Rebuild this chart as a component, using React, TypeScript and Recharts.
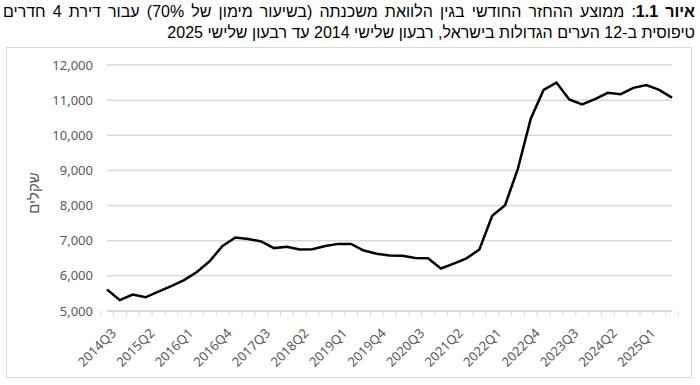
import { ComposedChart, Line, XAxis, YAxis, CartesianGrid, Label } from "recharts";

const quarters = [
  "2014Q3", "2014Q4",
  "2015Q1", "2015Q2", "2015Q3", "2015Q4",
  "2016Q1", "2016Q2", "2016Q3", "2016Q4",
  "2017Q1", "2017Q2", "2017Q3", "2017Q4",
  "2018Q1", "2018Q2", "2018Q3", "2018Q4",
  "2019Q1", "2019Q2", "2019Q3", "2019Q4",
  "2020Q1", "2020Q2", "2020Q3", "2020Q4",
  "2021Q1", "2021Q2", "2021Q3", "2021Q4",
  "2022Q1", "2022Q2", "2022Q3", "2022Q4",
  "2023Q1", "2023Q2", "2023Q3", "2023Q4",
  "2024Q1", "2024Q2", "2024Q3", "2024Q4",
  "2025Q1", "2025Q2", "2025Q3",
];

// average monthly mortgage payment, NIS
const payments = [
  5610, 5310,
  5470, 5390, 5550, 5710,
  5880, 6110, 6420, 6850,
  7090, 7050, 6980, 6790,
  6830, 6750, 6760, 6850,
  6910, 6910, 6720, 6630,
  6580, 6570, 6510, 6500,
  6210, 6350, 6500, 6750,
  7710, 8010, 9050, 10470,
  11290, 11500, 11020, 10880,
  11030, 11210, 11170, 11350,
  11430, 11290, 11070,
];

const yTicks = [5000, 6000, 7000, 8000, 9000, 10000, 11000, 12000];

const titleBold = "איור 1.1";
const titleLine1 = ": ממוצע ההחזר החודשי בגין הלוואת משכנתה (בשיעור מימון של 70%) עבור דירת 4 חדרים";
const titleLine2 = "טיפוסית ב-12 הערים הגדולות בישראל, רבעון שלישי 2014 עד רבעון שלישי 2025";
const yTitle = "שקלים";

const data = quarters.map((q, i) => ({ quarter: q, payment: payments[i] }));

const gray = "#d9d9d9";
const labelColor = "#595959";
const font = "'Noto Sans', 'Open Sans', sans-serif";

function QuarterTick(props: any) {
  const { x, y, payload, index, width, visibleTicksCount } = props;
  const step = width && visibleTicksCount ? width / visibleTicksCount : 12.56;
  const left = x - step / 2;
  const right = x + step / 2;
  const tx = x + 10;
  const ty = y + 23;
  return (
    <g>
      <line x1={left} x2={left} y1={y} y2={y + 5} stroke={gray} />
      {index === visibleTicksCount - 1 && <line x1={right} x2={right} y1={y} y2={y + 5} stroke={gray} />}
      {index % 3 === 0 && (
        <text
          x={tx}
          y={ty}
          transform={`rotate(-45, ${tx}, ${ty})`}
          textAnchor="end"
          fontSize={13}
          fontFamily={font}
          fill={labelColor}
        >
          {payload.value}
        </text>
      )}
    </g>
  );
}

export default function App() {
  return (
    <div style={{ position: "absolute", left: 0, top: 0, width: 700, height: 385, background: "#fff", overflow: "hidden" }}>
      <div
        dir="rtl"
        style={{
          position: "absolute",
          top: 1,
          left: 3,
          width: 692,
          fontFamily: "'Liberation Sans', Arial, sans-serif",
          fontSize: 16,
          lineHeight: "21px",
          color: "#000",
          whiteSpace: "nowrap",
        }}
      >
        <div style={{ textAlign: "justify", textAlignLast: "justify" }}>
          <b>{titleBold}</b>
          {titleLine1}
        </div>
        <div style={{ textAlign: "right" }}>{titleLine2}</div>
      </div>
      <div style={{ position: "absolute", left: 6, top: 47, width: 684, height: 329, border: `1px solid ${gray}` }} />
      <div style={{ position: "absolute", left: 0, top: 0 }}>
        <ComposedChart width={700} height={385} data={data} margin={{ top: 65, right: 28, bottom: 0, left: 0 }}>
          <CartesianGrid vertical={false} stroke={gray} strokeWidth={1.5} />
          <XAxis
            dataKey="quarter"
            interval={0}
            tickLine={false}
            tickSize={0}
            tickMargin={0}
            axisLine={{ stroke: gray, strokeWidth: 1.5 }}
            tick={<QuarterTick />}
            height={74}
          />
          <YAxis
            domain={[5000, 12000]}
            ticks={yTicks}
            width={107}
            axisLine={false}
            tickLine={false}
            tickSize={0}
            tickMargin={14}
            tickFormatter={(v: number) => v.toLocaleString("en-US")}
            tick={{ fontSize: 13, fontFamily: font, fill: labelColor }}
          >
            <Label
              content={(p: any) => {
                const vb = p.viewBox || { x: 0, y: 65, width: 107, height: 246 };
                const cx = vb.x + 33;
                const cy = vb.y + vb.height / 2 + 5;
                return (
                  <text
                    x={cx}
                    y={cy}
                    transform={`rotate(-90, ${cx}, ${cy})`}
                    textAnchor="middle"
                    dominantBaseline="central"
                    fontSize={15}
                    fontFamily="'Liberation Sans', Arial, sans-serif"
                    fill={labelColor}
                  >
                    {yTitle}
                  </text>
                );
              }}
            />
          </YAxis>
          <Line
            type="linear"
            dataKey="payment"
            stroke="#000"
            strokeWidth={2.5}
            dot={false}
            activeDot={false}
            isAnimationActive={false}
          />
        </ComposedChart>
      </div>
    </div>
  );
}
